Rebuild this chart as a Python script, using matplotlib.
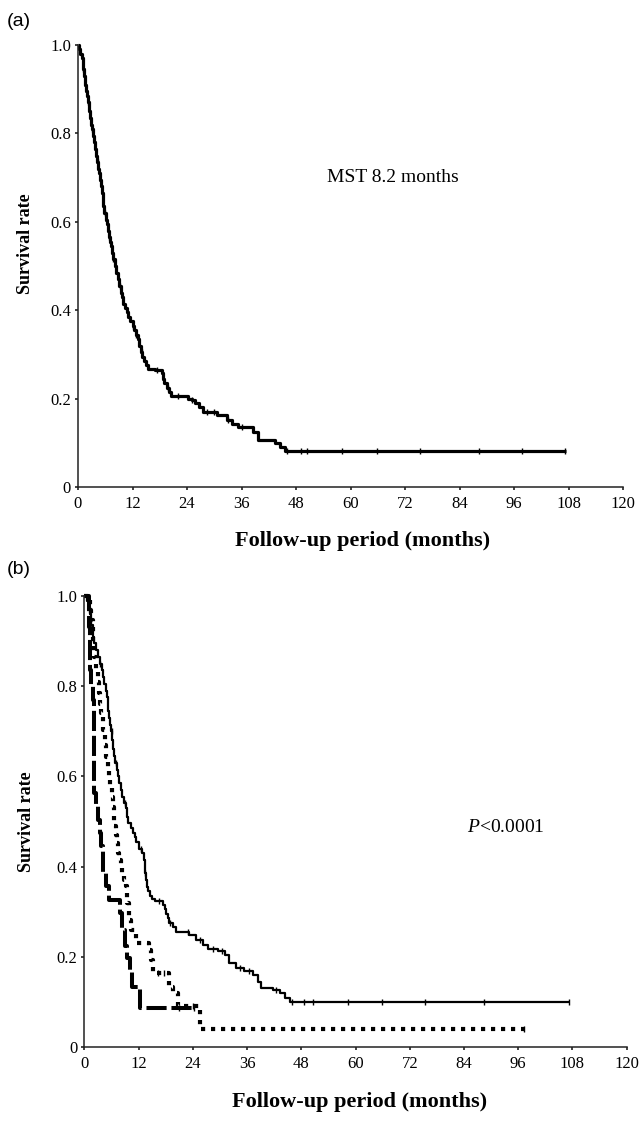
import numpy as np
import matplotlib
matplotlib.use("Agg")
import matplotlib.pyplot as plt

plt.rcParams['font.family'] = ['Liberation Serif', 'DejaVu Serif']
plt.rcParams['mathtext.fontset'] = 'custom'
plt.rcParams['mathtext.rm'] = 'Liberation Serif'
plt.rcParams['mathtext.it'] = 'Liberation Serif:italic'

# ---- data ----
# panel (a): overall Kaplan-Meier curve
t_all = [0, 0.3, 0.5, 0.8, 1.0, 1.2, 1.4, 1.6, 1.8, 2.0, 2.2, 2.4, 2.6, 2.8, 3.0, 3.3,
         3.5, 3.7, 3.9, 4.1, 4.4, 4.6, 4.8, 5.0, 5.2, 5.4, 5.6, 5.8, 6.1, 6.3, 6.5, 6.8,
         7.0, 7.2, 7.5, 7.8, 8.1, 8.4, 8.8, 9.1, 9.4, 9.7, 10.0, 10.3, 10.7, 11.1, 11.5,
         12.0, 12.4, 12.8, 13.2, 13.5, 13.8, 14.2, 14.6, 15.0, 15.4, 16.9, 18.4, 18.7,
         19.0, 19.5, 20.0, 20.5, 24.3, 25.0, 25.7, 26.7, 27.6, 30.5, 32.7, 33.8, 35.3,
         38.6, 39.7, 43.4, 44.5, 45.6, 107.5]
s_all = [1.0, 0.99, 0.98, 0.97, 0.96, 0.945, 0.93, 0.91, 0.895, 0.885, 0.87, 0.85,
         0.835, 0.82, 0.81, 0.795, 0.78, 0.765, 0.75, 0.735, 0.72, 0.71, 0.695, 0.68,
         0.665, 0.65, 0.635, 0.62, 0.605, 0.595, 0.58, 0.565, 0.555, 0.545, 0.53, 0.515,
         0.50, 0.485, 0.47, 0.455, 0.44, 0.43, 0.415, 0.405, 0.395, 0.385, 0.375, 0.365,
         0.355, 0.345, 0.335, 0.32, 0.305, 0.295, 0.285, 0.275, 0.268, 0.264, 0.257,
         0.245, 0.235, 0.225, 0.215, 0.206, 0.20, 0.196, 0.189, 0.18, 0.17, 0.162,
         0.151, 0.142, 0.136, 0.125, 0.107, 0.10, 0.09, 0.082, 0.082]
cens_all = [1.2, 2.2, 3.0, 4.3, 5.4, 6.0, 6.9, 7.8, 9.3, 12.0, 12.8, 14.0, 17.5, 19.8,
            22.0, 25.2, 28.5, 30.0, 33.0, 36.0, 46.0, 49.2, 50.5, 58.2, 65.8, 75.3,
            88.3, 97.8, 107.2]

# panel (b): three groups
t_g1 = [0, 0.5, 0.9, 1.2, 1.5, 1.8, 2.2, 2.6, 3.0, 3.4, 3.8, 4.1, 4.4, 4.7, 4.9, 5.1,
        5.3, 5.5, 5.7, 5.9, 6.1, 6.3, 6.5, 6.8, 7.1, 7.4, 7.7, 8.0, 8.3, 8.7, 9.1, 9.4,
        9.6, 10.2, 10.7, 11.1, 11.5, 12.0, 12.8, 13.1, 13.3, 13.5, 13.7, 13.9, 14.1,
        14.5, 14.9, 15.5, 17.3, 17.8, 18.1, 18.5, 18.8, 19.6, 20.3, 23.2, 24.7, 26.2,
        27.3, 29.5, 31.0, 32.1, 33.6, 35.4, 37.3, 38.4, 39.1, 41.7, 43.2, 44.3, 45.4,
        107.5]
s_g1 = [1.0, 0.99, 0.975, 0.96, 0.935, 0.91, 0.895, 0.88, 0.865, 0.85, 0.835, 0.82,
        0.805, 0.79, 0.775, 0.76, 0.745, 0.73, 0.715, 0.70, 0.68, 0.66, 0.645, 0.63,
        0.615, 0.60, 0.585, 0.57, 0.555, 0.54, 0.53, 0.51, 0.496, 0.485, 0.475, 0.465,
        0.455, 0.44, 0.43, 0.415, 0.40, 0.385, 0.37, 0.355, 0.345, 0.335, 0.328, 0.323,
        0.315, 0.305, 0.295, 0.285, 0.275, 0.267, 0.256, 0.249, 0.238, 0.227, 0.217,
        0.212, 0.205, 0.187, 0.175, 0.168, 0.16, 0.145, 0.131, 0.127, 0.12, 0.109,
        0.099, 0.099]
cens_g1 = [3.5, 6.0, 7.0, 9.0, 12.5, 13.5, 16.5, 19.0, 23.0, 25.5, 28.5, 30.5, 34.5,
           36.5, 42.5, 46.0, 48.5, 50.7, 58.3, 65.8, 75.3, 88.5, 107.2]

t_g2 = [0, 1.1, 1.3, 1.5, 1.8, 2.2, 2.6, 2.9, 3.2, 3.5, 3.7, 4.1, 4.5, 4.8, 5.2, 5.5,
        5.7, 6.0, 6.3, 6.6, 6.9, 7.2, 7.5, 7.7, 8.0, 8.3, 8.7, 9.1, 9.4, 9.8, 10.3, 11.4,
        14.2, 14.8, 15.1, 18.8, 19.6, 20.7, 25.5, 97.5]
s_g2 = [1.0, 1.0, 0.97, 0.947, 0.895, 0.865, 0.836, 0.81, 0.784, 0.76, 0.74, 0.703,
        0.67, 0.644, 0.614, 0.595, 0.578, 0.555, 0.533, 0.489, 0.47, 0.452, 0.43, 0.415,
        0.40, 0.385, 0.37, 0.356, 0.319, 0.282, 0.26, 0.23, 0.216, 0.194, 0.164, 0.134,
        0.12, 0.09, 0.04, 0.04]
cens_g2 = [16.3, 17.6, 24.0, 97.3]

t_g3 = [0, 0.7, 1.1, 1.25, 1.5, 1.8, 2.0, 2.2, 2.6, 3.0, 3.4, 3.7, 4.0, 4.2, 4.8, 5.5,
        7.9, 8.3, 8.9, 9.4, 10.0, 10.6, 12.2, 24.5]
s_g3 = [1.0, 1.0, 0.932, 0.836, 0.80, 0.77, 0.666, 0.563, 0.535, 0.504, 0.475, 0.445,
        0.415, 0.386, 0.356, 0.326, 0.297, 0.26, 0.223, 0.197, 0.171, 0.134, 0.086, 0.086]
cens_g3 = [21.0, 24.3]

xticks = [0, 12, 24, 36, 48, 60, 72, 84, 96, 108, 120]
yticks = [0, 0.2, 0.4, 0.6, 0.8, 1.0]
ytick_labels = ['0', '0.2', '0.4', '0.6', '0.8', '1.0']


def step_at(t, s, x):
    idx = np.searchsorted(t, x, side='right') - 1
    return np.asarray(s)[idx]


def km(ax, t, s, cens, lw, dashes=None, cens_size=5):
    line, = ax.plot(t, s, drawstyle='steps-post', color='black', lw=lw,
                    solid_capstyle='butt', clip_on=False)
    if dashes is not None:
        line.set_dashes(dashes)
        line.set_dash_capstyle('butt')
    ax.plot(cens, step_at(t, s, cens), ls='none', marker='|', ms=cens_size,
            mew=1.0, color='black', clip_on=False)


def style(ax, xlab_x):
    ax.set_xlim(0, 120)
    ax.set_ylim(0, 1.0)
    ax.spines['top'].set_visible(False)
    ax.spines['right'].set_visible(False)
    for sp in ('left', 'bottom'):
        ax.spines[sp].set_linewidth(1.1)
        ax.spines[sp].set_color('#222222')
    ax.set_xticks(xticks)
    ax.set_yticks(yticks)
    ax.set_yticklabels(ytick_labels)
    ax.tick_params(axis='both', direction='out', length=2.5, width=1.2,
                   labelsize=12, color='#222222')
    ax.tick_params(axis='y', pad=2.5)
    ax.tick_params(axis='x', pad=4)
    ax.set_xlabel('Follow-up period (months)', fontsize=16, fontweight='bold')
    ax.set_ylabel('Survival rate', fontsize=13, fontweight='bold')
    ax.xaxis.label.set_va('center')
    ax.yaxis.label.set_va('center')
    ax.xaxis.set_label_coords(xlab_x, -0.122)


fig = plt.figure(figsize=(6.41, 11.23), dpi=100)

W, H = 641.0, 1123.0
ax1 = fig.add_axes([78 / W, 1 - 487 / H, 545 / W, 442 / H])
km(ax1, t_all, s_all, cens_all, lw=2.3)
style(ax1, 0.523)
ax1.yaxis.set_label_coords(-0.097, 0.55)
ax1.text(54.8, 0.70, 'MST 8.2 months', fontsize=14, ha='left', va='center')

ax2 = fig.add_axes([84.5 / W, 1 - 1047 / H, 542 / W, 451 / H])
km(ax2, t_g3, s_g3, cens_g3, lw=2.9, dashes=(5, 1.2))
km(ax2, t_g2, s_g2, cens_g2, lw=3.0, dashes=(1, 1.4))
km(ax2, t_g1, s_g1, cens_g1, lw=1.6)
style(ax2, 0.508)
ax2.yaxis.set_label_coords(-0.107, 0.50)
ax2.text(84.7, 0.486, r'$\mathit{P}$<0.0001', fontsize=14, ha='left', va='center')

fig.text(7 / W, 1 - 22 / H, '(a)', fontsize=14, family=['Liberation Sans', 'DejaVu Sans'],
         ha='left', va='center')
fig.text(7 / W, 1 - 569 / H, '(b)', fontsize=14, family=['Liberation Sans', 'DejaVu Sans'],
         ha='left', va='center')

fig.savefig('out.png', dpi=100)
